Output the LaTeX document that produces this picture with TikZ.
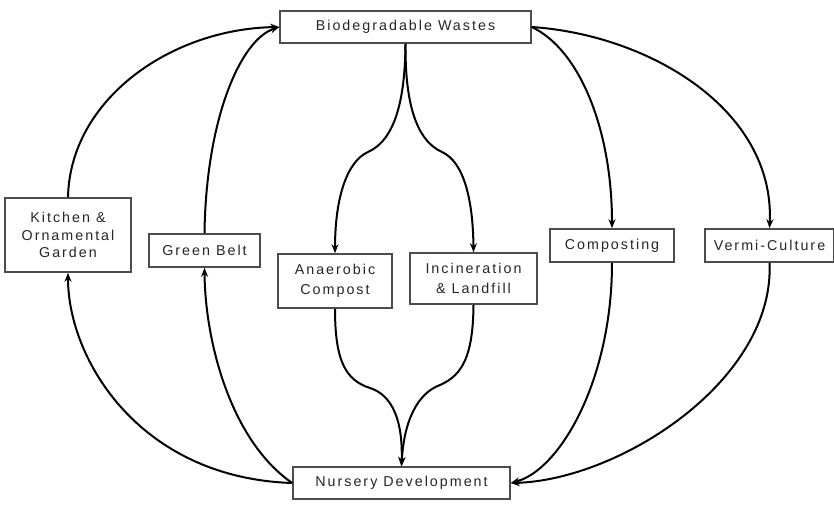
\documentclass[tikz,border=0pt]{standalone}
\usepackage{fontspec}
\setmainfont{Liberation Sans}[LetterSpace=14]
\usetikzlibrary{arrows.meta}

\tikzset{
  wastebox/.style={draw=black!70, line width=1.6pt, fill=white, align=center,
    inner sep=0pt, text=black!85, font=\fontsize{14.3}{19.5}\selectfont},
  flow/.style={line width=2pt, -{Stealth[length=9pt,width=7pt]}}
}

\begin{document}
\begin{tikzpicture}[x=1pt, y=-1pt]
\useasboundingbox (0,0) rectangle (834,511);
% Draw boxes
\node[wastebox, minimum width=251pt, minimum height=32pt] (biodeg) at (405.5,27) {Biodegradable Wastes};
\node[wastebox, minimum width=126pt, minimum height=74pt, font=\fontsize{14.3}{17.5}\selectfont] (kitchen) at (68,235) {Kitchen \&\\Ornamental\\Garden};
\node[wastebox, minimum width=111pt, minimum height=33pt] (green) at (204.5,250.5) {Green Belt};
\node[wastebox, minimum width=114pt, minimum height=54pt] (anaerobic) at (335,281) {Anaerobic\\Compost};
\node[wastebox, minimum width=127pt, minimum height=51pt] (incin) at (473.5,278.5) {Incineration\\\& Landfill};
\node[wastebox, minimum width=124pt, minimum height=33pt] (compost) at (612,245.5) {Composting};
\node[wastebox, minimum width=129pt, minimum height=33pt] (vermi) at (769.5,245.5) {Vermi-Culture};
\node[wastebox, minimum width=217pt, minimum height=32pt] (nursery) at (401.5,483) {Nursery Development};
% Draw arrows into the wastes box
\draw[flow] (kitchen.north) .. controls (70,100) and (170,29) .. (biodeg.west);
\draw[flow] (green.north) .. controls (206,120) and (240,40) .. (biodeg.west);
% Draw split from the wastes box
\draw[flow] (biodeg.south) .. controls (405,100) and (395,140) .. (368,152)
  .. controls (346,162) and (335,200) .. (anaerobic.north);
\draw[flow] (biodeg.south) .. controls (405,100) and (415,140) .. (442,152)
  .. controls (464,162) and (473,200) .. (incin.north);
\draw[flow] (biodeg.east) .. controls (580,50) and (612,130) .. (compost.north);
\draw[flow] (biodeg.east) .. controls (650,35) and (775,110) .. (vermi.north);
% Draw arrows out of the nursery box
\draw[flow] (nursery.west) .. controls (140,478) and (68,360) .. (kitchen.south);
\draw[flow] (nursery.west) .. controls (230,440) and (205,340) .. (green.south);
% Draw merge into the nursery box
\draw[flow] (anaerobic.south) .. controls (335,360) and (345,380) .. (370,388)
  .. controls (392,395) and (403,420) .. (nursery.north);
\draw[flow] (incin.south) .. controls (473,355) and (463,375) .. (440,385)
  .. controls (418,393) and (404,420) .. (nursery.north);
\draw[flow] (compost.south) .. controls (612,380) and (560,470) .. (nursery.east);
\draw[flow] (vermi.south) .. controls (775,380) and (620,480) .. (nursery.east);
\end{tikzpicture}
\end{document}
